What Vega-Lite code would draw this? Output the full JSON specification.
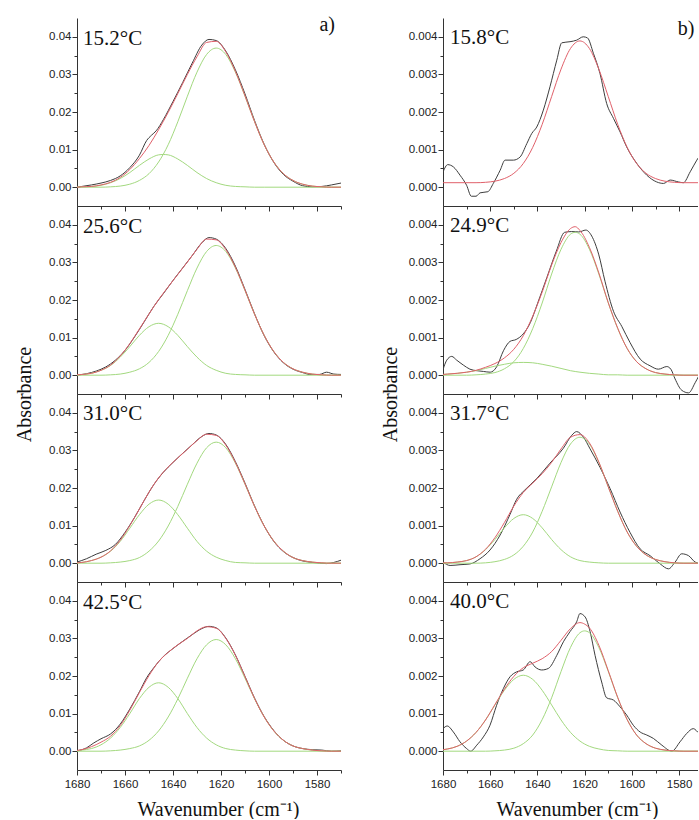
{
"$schema": "https://vega.github.io/schema/vega-lite/v6.json",
"padding": {"left": 14, "top": 14, "right": 0, "bottom": 0},
"background": "white",
"config": {
  "view": {"stroke": null},
  "axis": {"domainColor": "#333", "tickColor": "#333", "domainWidth": 1, "tickWidth": 1, "labelFont": "Liberation Sans", "labelFontSize": 11.5, "labelColor": "#222", "titleFont": "Liberation Serif", "titleFontSize": 20, "titleFontWeight": "normal", "titleColor": "#111", "grid": false, "labelPadding": 2, "labelFlush": false, "labelOverlap": false}
},
"datasets": {
"lab": [
{"p":"L1","wn":1677.5,"a":0.0395,"t":"15.2°C"},
{"p":"L2","wn":1677.5,"a":0.0395,"t":"25.6°C"},
{"p":"L3","wn":1677.5,"a":0.0397,"t":"31.0°C"},
{"p":"L4","wn":1677.5,"a":0.0395,"t":"42.5°C"},
{"p":"R1","wn":1677,"a":0.00398,"t":"15.8°C"},
{"p":"R2","wn":1677,"a":0.00398,"t":"24.9°C"},
{"p":"R3","wn":1677,"a":0.00398,"t":"31.7°C"},
{"p":"R4","wn":1677,"a":0.00398,"t":"40.0°C"}
],
"corner": [
{"p":"L1","wn":1572.5,"a":0.0432,"t":"a)"},
{"p":"R1","wn":1573.5,"a":0.00422,"t":"b)"}
],
"c": [
{"p":"L1","s":"data","wn":1570,"a":0.0011},{"p":"L1","s":"data","wn":1574,"a":0.0006},{"p":"L1","s":"data","wn":1578,"a":0.0002},{"p":"L1","s":"data","wn":1582,"a":0.0001},{"p":"L1","s":"data","wn":1586,"a":0.0004},{"p":"L1","s":"data","wn":1590,"a":0.0016},{"p":"L1","s":"data","wn":1594,"a":0.0034},{"p":"L1","s":"data","wn":1598,"a":0.0066},{"p":"L1","s":"data","wn":1602,"a":0.0114},{"p":"L1","s":"data","wn":1606,"a":0.0177},{"p":"L1","s":"data","wn":1610,"a":0.0248},{"p":"L1","s":"data","wn":1614,"a":0.0312},{"p":"L1","s":"data","wn":1618,"a":0.0362},{"p":"L1","s":"data","wn":1622,"a":0.039},{"p":"L1","s":"data","wn":1625,"a":0.0393},{"p":"L1","s":"data","wn":1628,"a":0.0378},{"p":"L1","s":"data","wn":1632,"a":0.033},{"p":"L1","s":"data","wn":1636,"a":0.0278},{"p":"L1","s":"data","wn":1640,"a":0.0228},{"p":"L1","s":"data","wn":1644,"a":0.018},{"p":"L1","s":"data","wn":1647,"a":0.015},{"p":"L1","s":"data","wn":1649,"a":0.0138},{"p":"L1","s":"data","wn":1651,"a":0.0124},{"p":"L1","s":"data","wn":1654,"a":0.0085},{"p":"L1","s":"data","wn":1658,"a":0.0052},{"p":"L1","s":"data","wn":1662,"a":0.003},{"p":"L1","s":"data","wn":1666,"a":0.0018},{"p":"L1","s":"data","wn":1670,"a":0.0011},{"p":"L1","s":"data","wn":1674,"a":0.0006},{"p":"L1","s":"data","wn":1678,"a":0.0002},{"p":"L1","s":"data","wn":1680,"a":0},
{"p":"L1","s":"peak1","wn":1570,"a":0},{"p":"L1","s":"peak1","wn":1574,"a":0},{"p":"L1","s":"peak1","wn":1578,"a":0.0001},{"p":"L1","s":"peak1","wn":1582,"a":0.0003},{"p":"L1","s":"peak1","wn":1586,"a":0.0008},{"p":"L1","s":"peak1","wn":1590,"a":0.0018},{"p":"L1","s":"peak1","wn":1594,"a":0.0036},{"p":"L1","s":"peak1","wn":1598,"a":0.0067},{"p":"L1","s":"peak1","wn":1602,"a":0.0113},{"p":"L1","s":"peak1","wn":1606,"a":0.0174},{"p":"L1","s":"peak1","wn":1610,"a":0.0242},{"p":"L1","s":"peak1","wn":1614,"a":0.0306},{"p":"L1","s":"peak1","wn":1618,"a":0.0353},{"p":"L1","s":"peak1","wn":1622,"a":0.037},{"p":"L1","s":"peak1","wn":1626,"a":0.0353},{"p":"L1","s":"peak1","wn":1630,"a":0.0306},{"p":"L1","s":"peak1","wn":1634,"a":0.0242},{"p":"L1","s":"peak1","wn":1638,"a":0.0174},{"p":"L1","s":"peak1","wn":1642,"a":0.0113},{"p":"L1","s":"peak1","wn":1646,"a":0.0067},{"p":"L1","s":"peak1","wn":1650,"a":0.0036},{"p":"L1","s":"peak1","wn":1654,"a":0.0018},{"p":"L1","s":"peak1","wn":1658,"a":0.0008},{"p":"L1","s":"peak1","wn":1662,"a":0.0003},{"p":"L1","s":"peak1","wn":1666,"a":0.0001},{"p":"L1","s":"peak1","wn":1670,"a":0},{"p":"L1","s":"peak1","wn":1680,"a":0},
{"p":"L1","s":"peak2","wn":1570,"a":0},{"p":"L1","s":"peak2","wn":1602,"a":0},{"p":"L1","s":"peak2","wn":1606,"a":0},{"p":"L1","s":"peak2","wn":1610,"a":0.0001},{"p":"L1","s":"peak2","wn":1614,"a":0.0002},{"p":"L1","s":"peak2","wn":1618,"a":0.0005},{"p":"L1","s":"peak2","wn":1622,"a":0.0012},{"p":"L1","s":"peak2","wn":1626,"a":0.0023},{"p":"L1","s":"peak2","wn":1630,"a":0.0039},{"p":"L1","s":"peak2","wn":1634,"a":0.0058},{"p":"L1","s":"peak2","wn":1638,"a":0.0075},{"p":"L1","s":"peak2","wn":1642,"a":0.0086},{"p":"L1","s":"peak2","wn":1644,"a":0.0087},{"p":"L1","s":"peak2","wn":1646,"a":0.0086},{"p":"L1","s":"peak2","wn":1650,"a":0.0075},{"p":"L1","s":"peak2","wn":1654,"a":0.0058},{"p":"L1","s":"peak2","wn":1658,"a":0.0039},{"p":"L1","s":"peak2","wn":1662,"a":0.0023},{"p":"L1","s":"peak2","wn":1666,"a":0.0012},{"p":"L1","s":"peak2","wn":1670,"a":0.0005},{"p":"L1","s":"peak2","wn":1674,"a":0.0002},{"p":"L1","s":"peak2","wn":1678,"a":0.0001},{"p":"L1","s":"peak2","wn":1680,"a":0},
{"p":"L1","s":"fit","wn":1570,"a":0},{"p":"L1","s":"fit","wn":1574,"a":0},{"p":"L1","s":"fit","wn":1578,"a":0.0001},{"p":"L1","s":"fit","wn":1582,"a":0.0003},{"p":"L1","s":"fit","wn":1586,"a":0.0008},{"p":"L1","s":"fit","wn":1590,"a":0.0018},{"p":"L1","s":"fit","wn":1594,"a":0.0036},{"p":"L1","s":"fit","wn":1598,"a":0.0067},{"p":"L1","s":"fit","wn":1602,"a":0.0113},{"p":"L1","s":"fit","wn":1606,"a":0.0174},{"p":"L1","s":"fit","wn":1610,"a":0.0243},{"p":"L1","s":"fit","wn":1614,"a":0.0308},{"p":"L1","s":"fit","wn":1618,"a":0.036},{"p":"L1","s":"fit","wn":1622,"a":0.0388},{"p":"L1","s":"fit","wn":1626,"a":0.0385},{"p":"L1","s":"fit","wn":1630,"a":0.0347},{"p":"L1","s":"fit","wn":1634,"a":0.03},{"p":"L1","s":"fit","wn":1638,"a":0.0249},{"p":"L1","s":"fit","wn":1642,"a":0.0199},{"p":"L1","s":"fit","wn":1646,"a":0.0153},{"p":"L1","s":"fit","wn":1650,"a":0.0111},{"p":"L1","s":"fit","wn":1654,"a":0.0076},{"p":"L1","s":"fit","wn":1658,"a":0.0047},{"p":"L1","s":"fit","wn":1662,"a":0.0026},{"p":"L1","s":"fit","wn":1666,"a":0.0013},{"p":"L1","s":"fit","wn":1670,"a":0.0006},{"p":"L1","s":"fit","wn":1674,"a":0.0002},{"p":"L1","s":"fit","wn":1678,"a":0.0001},{"p":"L1","s":"fit","wn":1680,"a":0},

{"p":"L2","s":"data","wn":1570,"a":0.0002},{"p":"L2","s":"data","wn":1573,"a":0.0003},{"p":"L2","s":"data","wn":1576,"a":0.0008},{"p":"L2","s":"data","wn":1579,"a":0.0002},{"p":"L2","s":"data","wn":1583,"a":0.0002},{"p":"L2","s":"data","wn":1586,"a":0.0007},{"p":"L2","s":"data","wn":1590,"a":0.0016},{"p":"L2","s":"data","wn":1594,"a":0.0033},{"p":"L2","s":"data","wn":1598,"a":0.0062},{"p":"L2","s":"data","wn":1602,"a":0.0105},{"p":"L2","s":"data","wn":1606,"a":0.0163},{"p":"L2","s":"data","wn":1610,"a":0.0228},{"p":"L2","s":"data","wn":1614,"a":0.029},{"p":"L2","s":"data","wn":1618,"a":0.0337},{"p":"L2","s":"data","wn":1622,"a":0.0362},{"p":"L2","s":"data","wn":1625,"a":0.0366},{"p":"L2","s":"data","wn":1628,"a":0.0352},{"p":"L2","s":"data","wn":1632,"a":0.0318},{"p":"L2","s":"data","wn":1636,"a":0.0285},{"p":"L2","s":"data","wn":1640,"a":0.0252},{"p":"L2","s":"data","wn":1644,"a":0.0217},{"p":"L2","s":"data","wn":1648,"a":0.0183},{"p":"L2","s":"data","wn":1652,"a":0.0142},{"p":"L2","s":"data","wn":1656,"a":0.0102},{"p":"L2","s":"data","wn":1660,"a":0.0066},{"p":"L2","s":"data","wn":1664,"a":0.004},{"p":"L2","s":"data","wn":1668,"a":0.0022},{"p":"L2","s":"data","wn":1672,"a":0.0011},{"p":"L2","s":"data","wn":1676,"a":0.0004},{"p":"L2","s":"data","wn":1680,"a":0},
{"p":"L2","s":"peak1","wn":1570,"a":0},{"p":"L2","s":"peak1","wn":1574,"a":0},{"p":"L2","s":"peak1","wn":1578,"a":0.0001},{"p":"L2","s":"peak1","wn":1582,"a":0.0003},{"p":"L2","s":"peak1","wn":1586,"a":0.0008},{"p":"L2","s":"peak1","wn":1590,"a":0.0017},{"p":"L2","s":"peak1","wn":1594,"a":0.0034},{"p":"L2","s":"peak1","wn":1598,"a":0.0063},{"p":"L2","s":"peak1","wn":1602,"a":0.0106},{"p":"L2","s":"peak1","wn":1606,"a":0.0162},{"p":"L2","s":"peak1","wn":1610,"a":0.0225},{"p":"L2","s":"peak1","wn":1614,"a":0.0285},{"p":"L2","s":"peak1","wn":1618,"a":0.0329},{"p":"L2","s":"peak1","wn":1622,"a":0.0345},{"p":"L2","s":"peak1","wn":1626,"a":0.0329},{"p":"L2","s":"peak1","wn":1630,"a":0.0285},{"p":"L2","s":"peak1","wn":1634,"a":0.0225},{"p":"L2","s":"peak1","wn":1638,"a":0.0162},{"p":"L2","s":"peak1","wn":1642,"a":0.0106},{"p":"L2","s":"peak1","wn":1646,"a":0.0063},{"p":"L2","s":"peak1","wn":1650,"a":0.0034},{"p":"L2","s":"peak1","wn":1654,"a":0.0017},{"p":"L2","s":"peak1","wn":1658,"a":0.0008},{"p":"L2","s":"peak1","wn":1662,"a":0.0003},{"p":"L2","s":"peak1","wn":1666,"a":0.0001},{"p":"L2","s":"peak1","wn":1670,"a":0},{"p":"L2","s":"peak1","wn":1680,"a":0},
{"p":"L2","s":"peak2","wn":1570,"a":0},{"p":"L2","s":"peak2","wn":1606,"a":0},{"p":"L2","s":"peak2","wn":1610,"a":0.0001},{"p":"L2","s":"peak2","wn":1614,"a":0.0002},{"p":"L2","s":"peak2","wn":1618,"a":0.0005},{"p":"L2","s":"peak2","wn":1622,"a":0.0013},{"p":"L2","s":"peak2","wn":1626,"a":0.0026},{"p":"L2","s":"peak2","wn":1630,"a":0.0048},{"p":"L2","s":"peak2","wn":1634,"a":0.0076},{"p":"L2","s":"peak2","wn":1638,"a":0.0106},{"p":"L2","s":"peak2","wn":1642,"a":0.0129},{"p":"L2","s":"peak2","wn":1646,"a":0.0138},{"p":"L2","s":"peak2","wn":1650,"a":0.0129},{"p":"L2","s":"peak2","wn":1654,"a":0.0106},{"p":"L2","s":"peak2","wn":1658,"a":0.0076},{"p":"L2","s":"peak2","wn":1662,"a":0.0048},{"p":"L2","s":"peak2","wn":1666,"a":0.0026},{"p":"L2","s":"peak2","wn":1670,"a":0.0013},{"p":"L2","s":"peak2","wn":1674,"a":0.0005},{"p":"L2","s":"peak2","wn":1678,"a":0.0002},{"p":"L2","s":"peak2","wn":1680,"a":0.0001},
{"p":"L2","s":"fit","wn":1570,"a":0},{"p":"L2","s":"fit","wn":1574,"a":0},{"p":"L2","s":"fit","wn":1578,"a":0.0001},{"p":"L2","s":"fit","wn":1582,"a":0.0003},{"p":"L2","s":"fit","wn":1586,"a":0.0008},{"p":"L2","s":"fit","wn":1590,"a":0.0017},{"p":"L2","s":"fit","wn":1594,"a":0.0034},{"p":"L2","s":"fit","wn":1598,"a":0.0063},{"p":"L2","s":"fit","wn":1602,"a":0.0106},{"p":"L2","s":"fit","wn":1606,"a":0.0162},{"p":"L2","s":"fit","wn":1610,"a":0.0226},{"p":"L2","s":"fit","wn":1614,"a":0.0287},{"p":"L2","s":"fit","wn":1618,"a":0.0334},{"p":"L2","s":"fit","wn":1622,"a":0.036},{"p":"L2","s":"fit","wn":1626,"a":0.0362},{"p":"L2","s":"fit","wn":1630,"a":0.0335},{"p":"L2","s":"fit","wn":1634,"a":0.0301},{"p":"L2","s":"fit","wn":1638,"a":0.0268},{"p":"L2","s":"fit","wn":1642,"a":0.0235},{"p":"L2","s":"fit","wn":1646,"a":0.0201},{"p":"L2","s":"fit","wn":1650,"a":0.0163},{"p":"L2","s":"fit","wn":1654,"a":0.0123},{"p":"L2","s":"fit","wn":1658,"a":0.0084},{"p":"L2","s":"fit","wn":1662,"a":0.0051},{"p":"L2","s":"fit","wn":1666,"a":0.0027},{"p":"L2","s":"fit","wn":1670,"a":0.0013},{"p":"L2","s":"fit","wn":1674,"a":0.0005},{"p":"L2","s":"fit","wn":1678,"a":0.0002},{"p":"L2","s":"fit","wn":1680,"a":0.0001},

{"p":"L3","s":"data","wn":1570,"a":0.0008},{"p":"L3","s":"data","wn":1573,"a":0.0002},{"p":"L3","s":"data","wn":1576,"a":-0.0001},{"p":"L3","s":"data","wn":1579,"a":0},{"p":"L3","s":"data","wn":1582,"a":0.0002},{"p":"L3","s":"data","wn":1586,"a":0.0006},{"p":"L3","s":"data","wn":1590,"a":0.0015},{"p":"L3","s":"data","wn":1594,"a":0.0031},{"p":"L3","s":"data","wn":1598,"a":0.0058},{"p":"L3","s":"data","wn":1602,"a":0.0099},{"p":"L3","s":"data","wn":1606,"a":0.0152},{"p":"L3","s":"data","wn":1610,"a":0.0213},{"p":"L3","s":"data","wn":1614,"a":0.027},{"p":"L3","s":"data","wn":1618,"a":0.0316},{"p":"L3","s":"data","wn":1622,"a":0.0341},{"p":"L3","s":"data","wn":1625,"a":0.0345},{"p":"L3","s":"data","wn":1628,"a":0.0337},{"p":"L3","s":"data","wn":1632,"a":0.0315},{"p":"L3","s":"data","wn":1636,"a":0.0292},{"p":"L3","s":"data","wn":1640,"a":0.0268},{"p":"L3","s":"data","wn":1644,"a":0.0242},{"p":"L3","s":"data","wn":1648,"a":0.0209},{"p":"L3","s":"data","wn":1652,"a":0.0167},{"p":"L3","s":"data","wn":1656,"a":0.0122},{"p":"L3","s":"data","wn":1660,"a":0.0082},{"p":"L3","s":"data","wn":1664,"a":0.005},{"p":"L3","s":"data","wn":1668,"a":0.0034},{"p":"L3","s":"data","wn":1672,"a":0.0024},{"p":"L3","s":"data","wn":1676,"a":0.0012},{"p":"L3","s":"data","wn":1680,"a":0.0003},
{"p":"L3","s":"peak1","wn":1570,"a":0},{"p":"L3","s":"peak1","wn":1574,"a":0},{"p":"L3","s":"peak1","wn":1578,"a":0.0001},{"p":"L3","s":"peak1","wn":1582,"a":0.0003},{"p":"L3","s":"peak1","wn":1586,"a":0.0007},{"p":"L3","s":"peak1","wn":1590,"a":0.0015},{"p":"L3","s":"peak1","wn":1594,"a":0.0032},{"p":"L3","s":"peak1","wn":1598,"a":0.0059},{"p":"L3","s":"peak1","wn":1602,"a":0.0099},{"p":"L3","s":"peak1","wn":1606,"a":0.0151},{"p":"L3","s":"peak1","wn":1610,"a":0.021},{"p":"L3","s":"peak1","wn":1614,"a":0.0266},{"p":"L3","s":"peak1","wn":1618,"a":0.0307},{"p":"L3","s":"peak1","wn":1622,"a":0.0322},{"p":"L3","s":"peak1","wn":1626,"a":0.0307},{"p":"L3","s":"peak1","wn":1630,"a":0.0266},{"p":"L3","s":"peak1","wn":1634,"a":0.021},{"p":"L3","s":"peak1","wn":1638,"a":0.0151},{"p":"L3","s":"peak1","wn":1642,"a":0.0099},{"p":"L3","s":"peak1","wn":1646,"a":0.0059},{"p":"L3","s":"peak1","wn":1650,"a":0.0032},{"p":"L3","s":"peak1","wn":1654,"a":0.0015},{"p":"L3","s":"peak1","wn":1658,"a":0.0007},{"p":"L3","s":"peak1","wn":1662,"a":0.0003},{"p":"L3","s":"peak1","wn":1666,"a":0.0001},{"p":"L3","s":"peak1","wn":1670,"a":0},{"p":"L3","s":"peak1","wn":1680,"a":0},
{"p":"L3","s":"peak2","wn":1570,"a":0},{"p":"L3","s":"peak2","wn":1606,"a":0},{"p":"L3","s":"peak2","wn":1610,"a":0.0001},{"p":"L3","s":"peak2","wn":1614,"a":0.0002},{"p":"L3","s":"peak2","wn":1618,"a":0.0007},{"p":"L3","s":"peak2","wn":1622,"a":0.0016},{"p":"L3","s":"peak2","wn":1626,"a":0.0032},{"p":"L3","s":"peak2","wn":1630,"a":0.0058},{"p":"L3","s":"peak2","wn":1634,"a":0.0093},{"p":"L3","s":"peak2","wn":1638,"a":0.0129},{"p":"L3","s":"peak2","wn":1642,"a":0.0157},{"p":"L3","s":"peak2","wn":1646,"a":0.0168},{"p":"L3","s":"peak2","wn":1650,"a":0.0157},{"p":"L3","s":"peak2","wn":1654,"a":0.0129},{"p":"L3","s":"peak2","wn":1658,"a":0.0093},{"p":"L3","s":"peak2","wn":1662,"a":0.0058},{"p":"L3","s":"peak2","wn":1666,"a":0.0032},{"p":"L3","s":"peak2","wn":1670,"a":0.0016},{"p":"L3","s":"peak2","wn":1674,"a":0.0007},{"p":"L3","s":"peak2","wn":1678,"a":0.0002},{"p":"L3","s":"peak2","wn":1680,"a":0.0001},
{"p":"L3","s":"fit","wn":1570,"a":0},{"p":"L3","s":"fit","wn":1574,"a":0},{"p":"L3","s":"fit","wn":1578,"a":0.0001},{"p":"L3","s":"fit","wn":1582,"a":0.0003},{"p":"L3","s":"fit","wn":1586,"a":0.0007},{"p":"L3","s":"fit","wn":1590,"a":0.0015},{"p":"L3","s":"fit","wn":1594,"a":0.0032},{"p":"L3","s":"fit","wn":1598,"a":0.0059},{"p":"L3","s":"fit","wn":1602,"a":0.0099},{"p":"L3","s":"fit","wn":1606,"a":0.0151},{"p":"L3","s":"fit","wn":1610,"a":0.0211},{"p":"L3","s":"fit","wn":1614,"a":0.0268},{"p":"L3","s":"fit","wn":1618,"a":0.0314},{"p":"L3","s":"fit","wn":1622,"a":0.034},{"p":"L3","s":"fit","wn":1626,"a":0.0343},{"p":"L3","s":"fit","wn":1630,"a":0.0326},{"p":"L3","s":"fit","wn":1634,"a":0.0303},{"p":"L3","s":"fit","wn":1638,"a":0.028},{"p":"L3","s":"fit","wn":1642,"a":0.0256},{"p":"L3","s":"fit","wn":1646,"a":0.0227},{"p":"L3","s":"fit","wn":1650,"a":0.0189},{"p":"L3","s":"fit","wn":1654,"a":0.0144},{"p":"L3","s":"fit","wn":1658,"a":0.01},{"p":"L3","s":"fit","wn":1662,"a":0.0061},{"p":"L3","s":"fit","wn":1666,"a":0.0033},{"p":"L3","s":"fit","wn":1670,"a":0.0016},{"p":"L3","s":"fit","wn":1674,"a":0.0007},{"p":"L3","s":"fit","wn":1678,"a":0.0002},{"p":"L3","s":"fit","wn":1680,"a":0.0001},

{"p":"L4","s":"data","wn":1570,"a":0.0001},{"p":"L4","s":"data","wn":1574,"a":0},{"p":"L4","s":"data","wn":1578,"a":0.0003},{"p":"L4","s":"data","wn":1582,"a":0.0004},{"p":"L4","s":"data","wn":1586,"a":0.0007},{"p":"L4","s":"data","wn":1590,"a":0.0014},{"p":"L4","s":"data","wn":1594,"a":0.0029},{"p":"L4","s":"data","wn":1598,"a":0.0055},{"p":"L4","s":"data","wn":1602,"a":0.0092},{"p":"L4","s":"data","wn":1606,"a":0.0141},{"p":"L4","s":"data","wn":1610,"a":0.0199},{"p":"L4","s":"data","wn":1614,"a":0.0256},{"p":"L4","s":"data","wn":1618,"a":0.0301},{"p":"L4","s":"data","wn":1622,"a":0.0328},{"p":"L4","s":"data","wn":1625,"a":0.0332},{"p":"L4","s":"data","wn":1628,"a":0.0326},{"p":"L4","s":"data","wn":1632,"a":0.031},{"p":"L4","s":"data","wn":1636,"a":0.0292},{"p":"L4","s":"data","wn":1640,"a":0.0273},{"p":"L4","s":"data","wn":1644,"a":0.0252},{"p":"L4","s":"data","wn":1648,"a":0.0222},{"p":"L4","s":"data","wn":1651,"a":0.0195},{"p":"L4","s":"data","wn":1654,"a":0.0158},{"p":"L4","s":"data","wn":1658,"a":0.0112},{"p":"L4","s":"data","wn":1662,"a":0.0072},{"p":"L4","s":"data","wn":1666,"a":0.0046},{"p":"L4","s":"data","wn":1670,"a":0.0033},{"p":"L4","s":"data","wn":1673,"a":0.0022},{"p":"L4","s":"data","wn":1676,"a":0.0009},{"p":"L4","s":"data","wn":1680,"a":0.0001},
{"p":"L4","s":"peak1","wn":1570,"a":0},{"p":"L4","s":"peak1","wn":1574,"a":0},{"p":"L4","s":"peak1","wn":1578,"a":0.0001},{"p":"L4","s":"peak1","wn":1582,"a":0.0003},{"p":"L4","s":"peak1","wn":1586,"a":0.0007},{"p":"L4","s":"peak1","wn":1590,"a":0.0014},{"p":"L4","s":"peak1","wn":1594,"a":0.0029},{"p":"L4","s":"peak1","wn":1598,"a":0.0054},{"p":"L4","s":"peak1","wn":1602,"a":0.0091},{"p":"L4","s":"peak1","wn":1606,"a":0.0139},{"p":"L4","s":"peak1","wn":1610,"a":0.0194},{"p":"L4","s":"peak1","wn":1614,"a":0.0246},{"p":"L4","s":"peak1","wn":1618,"a":0.0283},{"p":"L4","s":"peak1","wn":1622,"a":0.0297},{"p":"L4","s":"peak1","wn":1626,"a":0.0283},{"p":"L4","s":"peak1","wn":1630,"a":0.0246},{"p":"L4","s":"peak1","wn":1634,"a":0.0194},{"p":"L4","s":"peak1","wn":1638,"a":0.0139},{"p":"L4","s":"peak1","wn":1642,"a":0.0091},{"p":"L4","s":"peak1","wn":1646,"a":0.0054},{"p":"L4","s":"peak1","wn":1650,"a":0.0029},{"p":"L4","s":"peak1","wn":1654,"a":0.0014},{"p":"L4","s":"peak1","wn":1658,"a":0.0007},{"p":"L4","s":"peak1","wn":1662,"a":0.0003},{"p":"L4","s":"peak1","wn":1666,"a":0.0001},{"p":"L4","s":"peak1","wn":1670,"a":0},{"p":"L4","s":"peak1","wn":1680,"a":0},
{"p":"L4","s":"peak2","wn":1570,"a":0},{"p":"L4","s":"peak2","wn":1606,"a":0},{"p":"L4","s":"peak2","wn":1610,"a":0.0001},{"p":"L4","s":"peak2","wn":1614,"a":0.0003},{"p":"L4","s":"peak2","wn":1618,"a":0.0007},{"p":"L4","s":"peak2","wn":1622,"a":0.0017},{"p":"L4","s":"peak2","wn":1626,"a":0.0035},{"p":"L4","s":"peak2","wn":1630,"a":0.0063},{"p":"L4","s":"peak2","wn":1634,"a":0.01},{"p":"L4","s":"peak2","wn":1638,"a":0.014},{"p":"L4","s":"peak2","wn":1642,"a":0.017},{"p":"L4","s":"peak2","wn":1646,"a":0.0182},{"p":"L4","s":"peak2","wn":1650,"a":0.017},{"p":"L4","s":"peak2","wn":1654,"a":0.014},{"p":"L4","s":"peak2","wn":1658,"a":0.01},{"p":"L4","s":"peak2","wn":1662,"a":0.0063},{"p":"L4","s":"peak2","wn":1666,"a":0.0035},{"p":"L4","s":"peak2","wn":1670,"a":0.0017},{"p":"L4","s":"peak2","wn":1674,"a":0.0007},{"p":"L4","s":"peak2","wn":1678,"a":0.0003},{"p":"L4","s":"peak2","wn":1680,"a":0.0001},
{"p":"L4","s":"fit","wn":1570,"a":0},{"p":"L4","s":"fit","wn":1574,"a":0},{"p":"L4","s":"fit","wn":1578,"a":0.0001},{"p":"L4","s":"fit","wn":1582,"a":0.0003},{"p":"L4","s":"fit","wn":1586,"a":0.0007},{"p":"L4","s":"fit","wn":1590,"a":0.0014},{"p":"L4","s":"fit","wn":1594,"a":0.0029},{"p":"L4","s":"fit","wn":1598,"a":0.0054},{"p":"L4","s":"fit","wn":1602,"a":0.0091},{"p":"L4","s":"fit","wn":1606,"a":0.014},{"p":"L4","s":"fit","wn":1610,"a":0.0198},{"p":"L4","s":"fit","wn":1614,"a":0.0255},{"p":"L4","s":"fit","wn":1618,"a":0.03},{"p":"L4","s":"fit","wn":1622,"a":0.0327},{"p":"L4","s":"fit","wn":1626,"a":0.0331},{"p":"L4","s":"fit","wn":1630,"a":0.032},{"p":"L4","s":"fit","wn":1634,"a":0.03},{"p":"L4","s":"fit","wn":1638,"a":0.0283},{"p":"L4","s":"fit","wn":1642,"a":0.0263},{"p":"L4","s":"fit","wn":1646,"a":0.0238},{"p":"L4","s":"fit","wn":1650,"a":0.0201},{"p":"L4","s":"fit","wn":1654,"a":0.0156},{"p":"L4","s":"fit","wn":1658,"a":0.0109},{"p":"L4","s":"fit","wn":1662,"a":0.0068},{"p":"L4","s":"fit","wn":1666,"a":0.004},{"p":"L4","s":"fit","wn":1670,"a":0.0024},{"p":"L4","s":"fit","wn":1674,"a":0.0012},{"p":"L4","s":"fit","wn":1678,"a":0.0004},{"p":"L4","s":"fit","wn":1680,"a":0.0002},

{"p":"R1","s":"data","wn":1570,"a":0.00095},{"p":"R1","s":"data","wn":1572.5,"a":0.00072},{"p":"R1","s":"data","wn":1575.3,"a":0.00041},{"p":"R1","s":"data","wn":1578.2,"a":0.00012},{"p":"R1","s":"data","wn":1580.3,"a":0.00014},{"p":"R1","s":"data","wn":1583.8,"a":0.00019},{"p":"R1","s":"data","wn":1586.6,"a":0.0001},{"p":"R1","s":"data","wn":1589.5,"a":0.00014},{"p":"R1","s":"data","wn":1593.7,"a":0.00032},{"p":"R1","s":"data","wn":1597.9,"a":0.00063},{"p":"R1","s":"data","wn":1602.2,"a":0.00107},{"p":"R1","s":"data","wn":1605,"a":0.00147},{"p":"R1","s":"data","wn":1607.8,"a":0.00183},{"p":"R1","s":"data","wn":1610.7,"a":0.00223},{"p":"R1","s":"data","wn":1613.5,"a":0.00302},{"p":"R1","s":"data","wn":1616.3,"a":0.00356},{"p":"R1","s":"data","wn":1618.8,"a":0.00397},{"p":"R1","s":"data","wn":1620.6,"a":0.004},{"p":"R1","s":"data","wn":1623.4,"a":0.00391},{"p":"R1","s":"data","wn":1626.2,"a":0.00387},{"p":"R1","s":"data","wn":1629.7,"a":0.00384},{"p":"R1","s":"data","wn":1631.8,"a":0.00338},{"p":"R1","s":"data","wn":1634.7,"a":0.00267},{"p":"R1","s":"data","wn":1637.5,"a":0.00205},{"p":"R1","s":"data","wn":1640.3,"a":0.0016},{"p":"R1","s":"data","wn":1642.4,"a":0.00143},{"p":"R1","s":"data","wn":1644.5,"a":0.00116},{"p":"R1","s":"data","wn":1647.4,"a":0.0008},{"p":"R1","s":"data","wn":1650.2,"a":0.00072},{"p":"R1","s":"data","wn":1653.7,"a":0.00072},{"p":"R1","s":"data","wn":1655.8,"a":0.00045},{"p":"R1","s":"data","wn":1658.7,"a":0.0001},{"p":"R1","s":"data","wn":1661,"a":-0.00012},{"p":"R1","s":"data","wn":1664.3,"a":-0.00015},{"p":"R1","s":"data","wn":1666,"a":-0.00024},{"p":"R1","s":"data","wn":1668,"a":-0.00024},{"p":"R1","s":"data","wn":1670,"a":0.00005},{"p":"R1","s":"data","wn":1672.8,"a":0.00032},{"p":"R1","s":"data","wn":1675.6,"a":0.00054},{"p":"R1","s":"data","wn":1678,"a":0.0006},{"p":"R1","s":"data","wn":1680,"a":0.0004},
{"p":"R1","s":"fit","wn":1570,"a":0.00012},{"p":"R1","s":"fit","wn":1578,"a":0.00012},{"p":"R1","s":"fit","wn":1582,"a":0.00013},{"p":"R1","s":"fit","wn":1586,"a":0.00016},{"p":"R1","s":"fit","wn":1590,"a":0.00023},{"p":"R1","s":"fit","wn":1594,"a":0.00037},{"p":"R1","s":"fit","wn":1598,"a":0.00063},{"p":"R1","s":"fit","wn":1602,"a":0.00106},{"p":"R1","s":"fit","wn":1606,"a":0.00167},{"p":"R1","s":"fit","wn":1610,"a":0.00241},{"p":"R1","s":"fit","wn":1614,"a":0.00314},{"p":"R1","s":"fit","wn":1618,"a":0.00369},{"p":"R1","s":"fit","wn":1622,"a":0.00389},{"p":"R1","s":"fit","wn":1626,"a":0.00369},{"p":"R1","s":"fit","wn":1630,"a":0.00314},{"p":"R1","s":"fit","wn":1634,"a":0.00241},{"p":"R1","s":"fit","wn":1638,"a":0.00167},{"p":"R1","s":"fit","wn":1642,"a":0.00106},{"p":"R1","s":"fit","wn":1646,"a":0.00063},{"p":"R1","s":"fit","wn":1650,"a":0.00037},{"p":"R1","s":"fit","wn":1654,"a":0.00023},{"p":"R1","s":"fit","wn":1658,"a":0.00016},{"p":"R1","s":"fit","wn":1662,"a":0.00013},{"p":"R1","s":"fit","wn":1666,"a":0.00012},{"p":"R1","s":"fit","wn":1680,"a":0.00012},

{"p":"R2","s":"data","wn":1570,"a":0.0002},{"p":"R2","s":"data","wn":1573.2,"a":-0.0002},{"p":"R2","s":"data","wn":1576,"a":-0.00047},{"p":"R2","s":"data","wn":1578.9,"a":-0.0004},{"p":"R2","s":"data","wn":1581.7,"a":-0.0001},{"p":"R2","s":"data","wn":1583.5,"a":0.00016},{"p":"R2","s":"data","wn":1585.2,"a":0.00023},{"p":"R2","s":"data","wn":1588.8,"a":0.00016},{"p":"R2","s":"data","wn":1592.3,"a":0.00025},{"p":"R2","s":"data","wn":1596.5,"a":0.00043},{"p":"R2","s":"data","wn":1600.8,"a":0.00087},{"p":"R2","s":"data","wn":1604.3,"a":0.0013},{"p":"R2","s":"data","wn":1607.8,"a":0.0017},{"p":"R2","s":"data","wn":1611.4,"a":0.0025},{"p":"R2","s":"data","wn":1614,"a":0.0032},{"p":"R2","s":"data","wn":1617,"a":0.0037},{"p":"R2","s":"data","wn":1619.5,"a":0.00386},{"p":"R2","s":"data","wn":1622.5,"a":0.00381},{"p":"R2","s":"data","wn":1625.5,"a":0.00382},{"p":"R2","s":"data","wn":1628.5,"a":0.0038},{"p":"R2","s":"data","wn":1632,"a":0.0033},{"p":"R2","s":"data","wn":1636,"a":0.0026},{"p":"R2","s":"data","wn":1640,"a":0.0019},{"p":"R2","s":"data","wn":1643,"a":0.0014},{"p":"R2","s":"data","wn":1646,"a":0.0011},{"p":"R2","s":"data","wn":1649,"a":0.00095},{"p":"R2","s":"data","wn":1651.6,"a":0.0009},{"p":"R2","s":"data","wn":1654.4,"a":0.00065},{"p":"R2","s":"data","wn":1657.3,"a":0.00022},{"p":"R2","s":"data","wn":1660,"a":0.00008},{"p":"R2","s":"data","wn":1662.9,"a":0.0001},{"p":"R2","s":"data","wn":1665.7,"a":0.00012},{"p":"R2","s":"data","wn":1668.6,"a":0.00016},{"p":"R2","s":"data","wn":1671.4,"a":0.00027},{"p":"R2","s":"data","wn":1674.2,"a":0.0004},{"p":"R2","s":"data","wn":1676.3,"a":0.0005},{"p":"R2","s":"data","wn":1678.4,"a":0.0004},{"p":"R2","s":"data","wn":1680,"a":0.00015},
{"p":"R2","s":"peak1","wn":1570,"a":0},{"p":"R2","s":"peak1","wn":1578,"a":0},{"p":"R2","s":"peak1","wn":1582,"a":0.00001},{"p":"R2","s":"peak1","wn":1586,"a":0.00003},{"p":"R2","s":"peak1","wn":1590,"a":0.00007},{"p":"R2","s":"peak1","wn":1594,"a":0.00017},{"p":"R2","s":"peak1","wn":1598,"a":0.00036},{"p":"R2","s":"peak1","wn":1602,"a":0.00071},{"p":"R2","s":"peak1","wn":1606,"a":0.00124},{"p":"R2","s":"peak1","wn":1610,"a":0.00192},{"p":"R2","s":"peak1","wn":1614,"a":0.00269},{"p":"R2","s":"peak1","wn":1618,"a":0.00335},{"p":"R2","s":"peak1","wn":1622,"a":0.00375},{"p":"R2","s":"peak1","wn":1624,"a":0.0038},{"p":"R2","s":"peak1","wn":1626,"a":0.00375},{"p":"R2","s":"peak1","wn":1630,"a":0.00335},{"p":"R2","s":"peak1","wn":1634,"a":0.00269},{"p":"R2","s":"peak1","wn":1638,"a":0.00192},{"p":"R2","s":"peak1","wn":1642,"a":0.00124},{"p":"R2","s":"peak1","wn":1646,"a":0.00071},{"p":"R2","s":"peak1","wn":1650,"a":0.00036},{"p":"R2","s":"peak1","wn":1654,"a":0.00017},{"p":"R2","s":"peak1","wn":1658,"a":0.00007},{"p":"R2","s":"peak1","wn":1662,"a":0.00003},{"p":"R2","s":"peak1","wn":1666,"a":0.00001},{"p":"R2","s":"peak1","wn":1670,"a":0},{"p":"R2","s":"peak1","wn":1680,"a":0},
{"p":"R2","s":"peak2","wn":1570,"a":0},{"p":"R2","s":"peak2","wn":1602,"a":0},{"p":"R2","s":"peak2","wn":1606,"a":0.00001},{"p":"R2","s":"peak2","wn":1610,"a":0.00001},{"p":"R2","s":"peak2","wn":1614,"a":0.00003},{"p":"R2","s":"peak2","wn":1618,"a":0.00005},{"p":"R2","s":"peak2","wn":1622,"a":0.00008},{"p":"R2","s":"peak2","wn":1626,"a":0.00012},{"p":"R2","s":"peak2","wn":1630,"a":0.00018},{"p":"R2","s":"peak2","wn":1634,"a":0.00024},{"p":"R2","s":"peak2","wn":1638,"a":0.00029},{"p":"R2","s":"peak2","wn":1642,"a":0.00033},{"p":"R2","s":"peak2","wn":1646,"a":0.00034},{"p":"R2","s":"peak2","wn":1650,"a":0.00033},{"p":"R2","s":"peak2","wn":1654,"a":0.00029},{"p":"R2","s":"peak2","wn":1658,"a":0.00024},{"p":"R2","s":"peak2","wn":1662,"a":0.00018},{"p":"R2","s":"peak2","wn":1666,"a":0.00012},{"p":"R2","s":"peak2","wn":1670,"a":0.00008},{"p":"R2","s":"peak2","wn":1674,"a":0.00005},{"p":"R2","s":"peak2","wn":1678,"a":0.00003},{"p":"R2","s":"peak2","wn":1680,"a":0.00002},
{"p":"R2","s":"fit","wn":1570,"a":0},{"p":"R2","s":"fit","wn":1578,"a":0},{"p":"R2","s":"fit","wn":1582,"a":0.00001},{"p":"R2","s":"fit","wn":1586,"a":0.00003},{"p":"R2","s":"fit","wn":1590,"a":0.00007},{"p":"R2","s":"fit","wn":1594,"a":0.00017},{"p":"R2","s":"fit","wn":1598,"a":0.00036},{"p":"R2","s":"fit","wn":1602,"a":0.00071},{"p":"R2","s":"fit","wn":1606,"a":0.00125},{"p":"R2","s":"fit","wn":1610,"a":0.00193},{"p":"R2","s":"fit","wn":1614,"a":0.00272},{"p":"R2","s":"fit","wn":1618,"a":0.0034},{"p":"R2","s":"fit","wn":1622,"a":0.00385},{"p":"R2","s":"fit","wn":1624,"a":0.00395},{"p":"R2","s":"fit","wn":1626,"a":0.0039},{"p":"R2","s":"fit","wn":1630,"a":0.00353},{"p":"R2","s":"fit","wn":1634,"a":0.00293},{"p":"R2","s":"fit","wn":1638,"a":0.00221},{"p":"R2","s":"fit","wn":1642,"a":0.00157},{"p":"R2","s":"fit","wn":1646,"a":0.00105},{"p":"R2","s":"fit","wn":1650,"a":0.00069},{"p":"R2","s":"fit","wn":1654,"a":0.00046},{"p":"R2","s":"fit","wn":1658,"a":0.00031},{"p":"R2","s":"fit","wn":1662,"a":0.00021},{"p":"R2","s":"fit","wn":1666,"a":0.00013},{"p":"R2","s":"fit","wn":1670,"a":0.00008},{"p":"R2","s":"fit","wn":1674,"a":0.00005},{"p":"R2","s":"fit","wn":1678,"a":0.00003},{"p":"R2","s":"fit","wn":1680,"a":0.00002},

{"p":"R3","s":"data","wn":1570,"a":-0.00002},{"p":"R3","s":"data","wn":1573.2,"a":0.00003},{"p":"R3","s":"data","wn":1576,"a":0.0002},{"p":"R3","s":"data","wn":1578.9,"a":0.00025},{"p":"R3","s":"data","wn":1581.7,"a":0.00003},{"p":"R3","s":"data","wn":1584.5,"a":-0.00015},{"p":"R3","s":"data","wn":1588,"a":-0.00002},{"p":"R3","s":"data","wn":1592.3,"a":0.0002},{"p":"R3","s":"data","wn":1596.5,"a":0.00038},{"p":"R3","s":"data","wn":1600.8,"a":0.00082},{"p":"R3","s":"data","wn":1605,"a":0.00136},{"p":"R3","s":"data","wn":1609.2,"a":0.00198},{"p":"R3","s":"data","wn":1613.5,"a":0.00255},{"p":"R3","s":"data","wn":1617.7,"a":0.00304},{"p":"R3","s":"data","wn":1620.5,"a":0.00335},{"p":"R3","s":"data","wn":1623.4,"a":0.0035},{"p":"R3","s":"data","wn":1625.5,"a":0.0034},{"p":"R3","s":"data","wn":1629,"a":0.00306},{"p":"R3","s":"data","wn":1634.7,"a":0.00266},{"p":"R3","s":"data","wn":1640.3,"a":0.00225},{"p":"R3","s":"data","wn":1645.3,"a":0.00195},{"p":"R3","s":"data","wn":1648.8,"a":0.0017},{"p":"R3","s":"data","wn":1651.6,"a":0.0013},{"p":"R3","s":"data","wn":1655.8,"a":0.00075},{"p":"R3","s":"data","wn":1660.1,"a":0.00035},{"p":"R3","s":"data","wn":1664.3,"a":0.00012},{"p":"R3","s":"data","wn":1668.6,"a":-0.00002},{"p":"R3","s":"data","wn":1672.8,"a":-0.00004},{"p":"R3","s":"data","wn":1677,"a":-0.00006},{"p":"R3","s":"data","wn":1680,"a":0.00003},
{"p":"R3","s":"peak1","wn":1570,"a":0},{"p":"R3","s":"peak1","wn":1578,"a":0},{"p":"R3","s":"peak1","wn":1582,"a":0.00001},{"p":"R3","s":"peak1","wn":1586,"a":0.00004},{"p":"R3","s":"peak1","wn":1590,"a":0.0001},{"p":"R3","s":"peak1","wn":1594,"a":0.00022},{"p":"R3","s":"peak1","wn":1598,"a":0.00045},{"p":"R3","s":"peak1","wn":1602,"a":0.00083},{"p":"R3","s":"peak1","wn":1606,"a":0.00138},{"p":"R3","s":"peak1","wn":1610,"a":0.00203},{"p":"R3","s":"peak1","wn":1614,"a":0.00268},{"p":"R3","s":"peak1","wn":1618,"a":0.00317},{"p":"R3","s":"peak1","wn":1622,"a":0.00335},{"p":"R3","s":"peak1","wn":1626,"a":0.00317},{"p":"R3","s":"peak1","wn":1630,"a":0.00268},{"p":"R3","s":"peak1","wn":1634,"a":0.00203},{"p":"R3","s":"peak1","wn":1638,"a":0.00138},{"p":"R3","s":"peak1","wn":1642,"a":0.00083},{"p":"R3","s":"peak1","wn":1646,"a":0.00045},{"p":"R3","s":"peak1","wn":1650,"a":0.00022},{"p":"R3","s":"peak1","wn":1654,"a":0.0001},{"p":"R3","s":"peak1","wn":1658,"a":0.00004},{"p":"R3","s":"peak1","wn":1662,"a":0.00001},{"p":"R3","s":"peak1","wn":1666,"a":0},{"p":"R3","s":"peak1","wn":1680,"a":0},
{"p":"R3","s":"peak2","wn":1570,"a":0},{"p":"R3","s":"peak2","wn":1610,"a":0},{"p":"R3","s":"peak2","wn":1614,"a":0.00001},{"p":"R3","s":"peak2","wn":1618,"a":0.00003},{"p":"R3","s":"peak2","wn":1622,"a":0.00007},{"p":"R3","s":"peak2","wn":1626,"a":0.00017},{"p":"R3","s":"peak2","wn":1630,"a":0.00036},{"p":"R3","s":"peak2","wn":1634,"a":0.00063},{"p":"R3","s":"peak2","wn":1638,"a":0.00094},{"p":"R3","s":"peak2","wn":1642,"a":0.00119},{"p":"R3","s":"peak2","wn":1646,"a":0.00129},{"p":"R3","s":"peak2","wn":1650,"a":0.00119},{"p":"R3","s":"peak2","wn":1654,"a":0.00094},{"p":"R3","s":"peak2","wn":1658,"a":0.00063},{"p":"R3","s":"peak2","wn":1662,"a":0.00036},{"p":"R3","s":"peak2","wn":1666,"a":0.00017},{"p":"R3","s":"peak2","wn":1670,"a":0.00007},{"p":"R3","s":"peak2","wn":1674,"a":0.00003},{"p":"R3","s":"peak2","wn":1678,"a":0.00001},{"p":"R3","s":"peak2","wn":1680,"a":0},
{"p":"R3","s":"fit","wn":1570,"a":0},{"p":"R3","s":"fit","wn":1578,"a":0},{"p":"R3","s":"fit","wn":1582,"a":0.00001},{"p":"R3","s":"fit","wn":1586,"a":0.00004},{"p":"R3","s":"fit","wn":1590,"a":0.0001},{"p":"R3","s":"fit","wn":1594,"a":0.00022},{"p":"R3","s":"fit","wn":1598,"a":0.00045},{"p":"R3","s":"fit","wn":1602,"a":0.00083},{"p":"R3","s":"fit","wn":1606,"a":0.00138},{"p":"R3","s":"fit","wn":1610,"a":0.00203},{"p":"R3","s":"fit","wn":1614,"a":0.00269},{"p":"R3","s":"fit","wn":1618,"a":0.0032},{"p":"R3","s":"fit","wn":1622,"a":0.00342},{"p":"R3","s":"fit","wn":1626,"a":0.00335},{"p":"R3","s":"fit","wn":1630,"a":0.00304},{"p":"R3","s":"fit","wn":1634,"a":0.00268},{"p":"R3","s":"fit","wn":1638,"a":0.00238},{"p":"R3","s":"fit","wn":1642,"a":0.00213},{"p":"R3","s":"fit","wn":1646,"a":0.00188},{"p":"R3","s":"fit","wn":1650,"a":0.00152},{"p":"R3","s":"fit","wn":1654,"a":0.00108},{"p":"R3","s":"fit","wn":1658,"a":0.00068},{"p":"R3","s":"fit","wn":1662,"a":0.00037},{"p":"R3","s":"fit","wn":1666,"a":0.00017},{"p":"R3","s":"fit","wn":1670,"a":0.00007},{"p":"R3","s":"fit","wn":1674,"a":0.00003},{"p":"R3","s":"fit","wn":1678,"a":0.00001},{"p":"R3","s":"fit","wn":1680,"a":0.00001},

{"p":"R4","s":"data","wn":1570,"a":0.0004},{"p":"R4","s":"data","wn":1571.5,"a":0.00047},{"p":"R4","s":"data","wn":1574,"a":0.0006},{"p":"R4","s":"data","wn":1576.8,"a":0.00047},{"p":"R4","s":"data","wn":1579.6,"a":0.00025},{"p":"R4","s":"data","wn":1583.1,"a":0},{"p":"R4","s":"data","wn":1587.3,"a":0.00016},{"p":"R4","s":"data","wn":1590.9,"a":0.00034},{"p":"R4","s":"data","wn":1593.7,"a":0.00043},{"p":"R4","s":"data","wn":1596.5,"a":0.00051},{"p":"R4","s":"data","wn":1599.4,"a":0.00069},{"p":"R4","s":"data","wn":1602.2,"a":0.00096},{"p":"R4","s":"data","wn":1605,"a":0.00118},{"p":"R4","s":"data","wn":1607.8,"a":0.00136},{"p":"R4","s":"data","wn":1610.7,"a":0.00142},{"p":"R4","s":"data","wn":1612.8,"a":0.00184},{"p":"R4","s":"data","wn":1615.6,"a":0.00255},{"p":"R4","s":"data","wn":1617.7,"a":0.00318},{"p":"R4","s":"data","wn":1619.8,"a":0.00357},{"p":"R4","s":"data","wn":1622,"a":0.00366},{"p":"R4","s":"data","wn":1623.4,"a":0.00344},{"p":"R4","s":"data","wn":1626.2,"a":0.00318},{"p":"R4","s":"data","wn":1629,"a":0.00291},{"p":"R4","s":"data","wn":1631.8,"a":0.00255},{"p":"R4","s":"data","wn":1635.4,"a":0.0022},{"p":"R4","s":"data","wn":1638.2,"a":0.00216},{"p":"R4","s":"data","wn":1641,"a":0.00224},{"p":"R4","s":"data","wn":1643.1,"a":0.00238},{"p":"R4","s":"data","wn":1646,"a":0.00216},{"p":"R4","s":"data","wn":1648.8,"a":0.00211},{"p":"R4","s":"data","wn":1651.6,"a":0.00198},{"p":"R4","s":"data","wn":1654.4,"a":0.00167},{"p":"R4","s":"data","wn":1657.3,"a":0.00122},{"p":"R4","s":"data","wn":1660.1,"a":0.00069},{"p":"R4","s":"data","wn":1662.9,"a":0.00038},{"p":"R4","s":"data","wn":1665.7,"a":0.00016},{"p":"R4","s":"data","wn":1668.3,"a":0},{"p":"R4","s":"data","wn":1670,"a":0.00007},{"p":"R4","s":"data","wn":1672.8,"a":0.00025},{"p":"R4","s":"data","wn":1675.6,"a":0.00051},{"p":"R4","s":"data","wn":1678.2,"a":0.00067},{"p":"R4","s":"data","wn":1680,"a":0.0006},
{"p":"R4","s":"peak1","wn":1570,"a":0},{"p":"R4","s":"peak1","wn":1578,"a":0},{"p":"R4","s":"peak1","wn":1582,"a":0.00001},{"p":"R4","s":"peak1","wn":1586,"a":0.00003},{"p":"R4","s":"peak1","wn":1590,"a":0.00008},{"p":"R4","s":"peak1","wn":1594,"a":0.0002},{"p":"R4","s":"peak1","wn":1598,"a":0.00043},{"p":"R4","s":"peak1","wn":1602,"a":0.00084},{"p":"R4","s":"peak1","wn":1606,"a":0.00142},{"p":"R4","s":"peak1","wn":1610,"a":0.00212},{"p":"R4","s":"peak1","wn":1614,"a":0.00276},{"p":"R4","s":"peak1","wn":1618,"a":0.00315},{"p":"R4","s":"peak1","wn":1620,"a":0.0032},{"p":"R4","s":"peak1","wn":1622,"a":0.00315},{"p":"R4","s":"peak1","wn":1626,"a":0.00276},{"p":"R4","s":"peak1","wn":1630,"a":0.00212},{"p":"R4","s":"peak1","wn":1634,"a":0.00142},{"p":"R4","s":"peak1","wn":1638,"a":0.00084},{"p":"R4","s":"peak1","wn":1642,"a":0.00043},{"p":"R4","s":"peak1","wn":1646,"a":0.0002},{"p":"R4","s":"peak1","wn":1650,"a":0.00008},{"p":"R4","s":"peak1","wn":1654,"a":0.00003},{"p":"R4","s":"peak1","wn":1658,"a":0.00001},{"p":"R4","s":"peak1","wn":1662,"a":0},{"p":"R4","s":"peak1","wn":1680,"a":0},
{"p":"R4","s":"peak2","wn":1570,"a":0},{"p":"R4","s":"peak2","wn":1602,"a":0},{"p":"R4","s":"peak2","wn":1606,"a":0.00001},{"p":"R4","s":"peak2","wn":1610,"a":0.00002},{"p":"R4","s":"peak2","wn":1614,"a":0.00006},{"p":"R4","s":"peak2","wn":1618,"a":0.00013},{"p":"R4","s":"peak2","wn":1622,"a":0.00027},{"p":"R4","s":"peak2","wn":1626,"a":0.0005},{"p":"R4","s":"peak2","wn":1630,"a":0.00083},{"p":"R4","s":"peak2","wn":1634,"a":0.00123},{"p":"R4","s":"peak2","wn":1638,"a":0.00162},{"p":"R4","s":"peak2","wn":1642,"a":0.00191},{"p":"R4","s":"peak2","wn":1646,"a":0.00202},{"p":"R4","s":"peak2","wn":1650,"a":0.00191},{"p":"R4","s":"peak2","wn":1654,"a":0.00162},{"p":"R4","s":"peak2","wn":1658,"a":0.00123},{"p":"R4","s":"peak2","wn":1662,"a":0.00083},{"p":"R4","s":"peak2","wn":1666,"a":0.0005},{"p":"R4","s":"peak2","wn":1670,"a":0.00027},{"p":"R4","s":"peak2","wn":1674,"a":0.00013},{"p":"R4","s":"peak2","wn":1678,"a":0.00006},{"p":"R4","s":"peak2","wn":1680,"a":0.00004},
{"p":"R4","s":"fit","wn":1570,"a":0},{"p":"R4","s":"fit","wn":1578,"a":0},{"p":"R4","s":"fit","wn":1582,"a":0.00001},{"p":"R4","s":"fit","wn":1586,"a":0.00003},{"p":"R4","s":"fit","wn":1590,"a":0.00008},{"p":"R4","s":"fit","wn":1594,"a":0.0002},{"p":"R4","s":"fit","wn":1598,"a":0.00043},{"p":"R4","s":"fit","wn":1602,"a":0.00084},{"p":"R4","s":"fit","wn":1606,"a":0.00143},{"p":"R4","s":"fit","wn":1610,"a":0.00214},{"p":"R4","s":"fit","wn":1614,"a":0.00282},{"p":"R4","s":"fit","wn":1618,"a":0.00328},{"p":"R4","s":"fit","wn":1620,"a":0.00338},{"p":"R4","s":"fit","wn":1622,"a":0.00342},{"p":"R4","s":"fit","wn":1626,"a":0.00326},{"p":"R4","s":"fit","wn":1630,"a":0.00295},{"p":"R4","s":"fit","wn":1634,"a":0.00265},{"p":"R4","s":"fit","wn":1638,"a":0.00246},{"p":"R4","s":"fit","wn":1642,"a":0.00234},{"p":"R4","s":"fit","wn":1646,"a":0.00222},{"p":"R4","s":"fit","wn":1650,"a":0.00199},{"p":"R4","s":"fit","wn":1654,"a":0.00165},{"p":"R4","s":"fit","wn":1658,"a":0.00124},{"p":"R4","s":"fit","wn":1662,"a":0.00083},{"p":"R4","s":"fit","wn":1666,"a":0.0005},{"p":"R4","s":"fit","wn":1670,"a":0.00027},{"p":"R4","s":"fit","wn":1674,"a":0.00013},{"p":"R4","s":"fit","wn":1678,"a":0.00006},{"p":"R4","s":"fit","wn":1680,"a":0.00004}
]
},
"columns": 2,
"spacing": {"row": 0, "column": 102},
"bounds": "flush",
"concat": [
{"width": 264, "height": 188, "data": {"name": "c"}, "transform": [{"filter": "datum.p==='L1'"}],
 "encoding": {
  "x": {"field": "wn", "type": "quantitative", "scale": {"domain": [1570, 1680], "reverse": true, "nice": false, "zero": false}, "axis": {"values": [1570,1580,1590,1600,1610,1620,1630,1640,1650,1660,1670,1680], "labels": false, "title": null, "tickSize": {"condition": {"test": "datum.value % 20 === 0", "value": 5}, "value": 3}}},
  "y": {"field": "a", "type": "quantitative", "scale": {"domain": [-0.005, 0.045], "nice": false, "zero": false}, "axis": {"values": [0,0.005,0.01,0.015,0.02,0.025,0.03,0.035,0.04], "format": ".2f", "labelPadding": 1, "labelExpr": "round(datum.value*1000) % 10 === 0 ? datum.label : ''", "tickSize": {"condition": {"test": "round(datum.value*1000) % 10 === 0", "value": 5}, "value": 3}, "title": null}}
 },
 "layer": [
  {"mark": {"type": "line", "clip": true, "interpolate": "monotone", "strokeWidth": 1}, "encoding": {"color": {"field": "s", "type": "nominal", "scale": {"domain": ["data","peak1","peak2","fit"], "range": ["#3d3d3d","#a3d97f","#a3d97f","#e0606a"]}, "legend": null}}},
  {"data": {"name": "lab"}, "transform": [{"filter": "datum.p==='L1'"}], "mark": {"type": "text", "align": "left", "baseline": "middle", "font": "Liberation Serif", "fontSize": 21, "color": "#111"}, "encoding": {"text": {"field": "t"}}},
  {"data": {"name": "corner"}, "transform": [{"filter": "datum.p==='L1'"}], "mark": {"type": "text", "align": "right", "baseline": "middle", "font": "Liberation Serif", "fontSize": 20, "color": "#111"}, "encoding": {"text": {"field": "t"}}}
 ]},
{"width": 255, "height": 188, "data": {"name": "c"}, "transform": [{"filter": "datum.p==='R1'"}],
 "encoding": {
  "x": {"field": "wn", "type": "quantitative", "scale": {"domain": [1572, 1680], "reverse": true, "nice": false, "zero": false}, "axis": {"values": [1580,1590,1600,1610,1620,1630,1640,1650,1660,1670,1680], "labels": false, "title": null, "tickSize": {"condition": {"test": "datum.value % 20 === 0", "value": 5}, "value": 3}}},
  "y": {"field": "a", "type": "quantitative", "scale": {"domain": [-0.0005, 0.0045], "nice": false, "zero": false}, "axis": {"values": [0,0.0005,0.001,0.0015,0.002,0.0025,0.003,0.0035,0.004], "format": ".3f", "labelPadding": 1, "labelExpr": "round(datum.value*10000) % 10 === 0 ? datum.label : ''", "tickSize": {"condition": {"test": "round(datum.value*10000) % 10 === 0", "value": 5}, "value": 3}, "title": null}}
 },
 "layer": [
  {"mark": {"type": "line", "clip": true, "interpolate": "monotone", "strokeWidth": 1}, "encoding": {"color": {"field": "s", "type": "nominal", "scale": {"domain": ["data","peak1","peak2","fit"], "range": ["#3d3d3d","#a3d97f","#a3d97f","#e0606a"]}, "legend": null}}},
  {"data": {"name": "lab"}, "transform": [{"filter": "datum.p==='R1'"}], "mark": {"type": "text", "align": "left", "baseline": "middle", "font": "Liberation Serif", "fontSize": 21, "color": "#111"}, "encoding": {"text": {"field": "t"}}},
  {"data": {"name": "corner"}, "transform": [{"filter": "datum.p==='R1'"}], "mark": {"type": "text", "align": "right", "baseline": "middle", "font": "Liberation Serif", "fontSize": 20, "color": "#111"}, "encoding": {"text": {"field": "t"}}}
 ]},
{"width": 264, "height": 188, "data": {"name": "c"}, "transform": [{"filter": "datum.p==='L2'"}],
 "encoding": {
  "x": {"field": "wn", "type": "quantitative", "scale": {"domain": [1570, 1680], "reverse": true, "nice": false, "zero": false}, "axis": {"values": [1570,1580,1590,1600,1610,1620,1630,1640,1650,1660,1670,1680], "labels": false, "title": null, "tickSize": {"condition": {"test": "datum.value % 20 === 0", "value": 5}, "value": 3}}},
  "y": {"field": "a", "type": "quantitative", "scale": {"domain": [-0.005, 0.045], "nice": false, "zero": false}, "axis": {"values": [0,0.005,0.01,0.015,0.02,0.025,0.03,0.035,0.04], "format": ".2f", "labelPadding": 1, "labelExpr": "round(datum.value*1000) % 10 === 0 ? datum.label : ''", "tickSize": {"condition": {"test": "round(datum.value*1000) % 10 === 0", "value": 5}, "value": 3}, "title": "Absorbance", "titleX": -53, "titleY": 188, "titleAlign": "center", "titleBaseline": "middle", "titleAngle": -90}}
 },
 "layer": [
  {"mark": {"type": "line", "clip": true, "interpolate": "monotone", "strokeWidth": 1}, "encoding": {"color": {"field": "s", "type": "nominal", "scale": {"domain": ["data","peak1","peak2","fit"], "range": ["#3d3d3d","#a3d97f","#a3d97f","#e0606a"]}, "legend": null}}},
  {"data": {"name": "lab"}, "transform": [{"filter": "datum.p==='L2'"}], "mark": {"type": "text", "align": "left", "baseline": "middle", "font": "Liberation Serif", "fontSize": 21, "color": "#111"}, "encoding": {"text": {"field": "t"}}}
 ]},
{"width": 255, "height": 188, "data": {"name": "c"}, "transform": [{"filter": "datum.p==='R2'"}],
 "encoding": {
  "x": {"field": "wn", "type": "quantitative", "scale": {"domain": [1572, 1680], "reverse": true, "nice": false, "zero": false}, "axis": {"values": [1580,1590,1600,1610,1620,1630,1640,1650,1660,1670,1680], "labels": false, "title": null, "tickSize": {"condition": {"test": "datum.value % 20 === 0", "value": 5}, "value": 3}}},
  "y": {"field": "a", "type": "quantitative", "scale": {"domain": [-0.0005, 0.0045], "nice": false, "zero": false}, "axis": {"values": [0,0.0005,0.001,0.0015,0.002,0.0025,0.003,0.0035,0.004], "format": ".3f", "labelPadding": 1, "labelExpr": "round(datum.value*10000) % 10 === 0 ? datum.label : ''", "tickSize": {"condition": {"test": "round(datum.value*10000) % 10 === 0", "value": 5}, "value": 3}, "title": "Absorbance", "titleX": -53, "titleY": 188, "titleAlign": "center", "titleBaseline": "middle", "titleAngle": -90}}
 },
 "layer": [
  {"mark": {"type": "line", "clip": true, "interpolate": "monotone", "strokeWidth": 1}, "encoding": {"color": {"field": "s", "type": "nominal", "scale": {"domain": ["data","peak1","peak2","fit"], "range": ["#3d3d3d","#a3d97f","#a3d97f","#e0606a"]}, "legend": null}}},
  {"data": {"name": "lab"}, "transform": [{"filter": "datum.p==='R2'"}], "mark": {"type": "text", "align": "left", "baseline": "middle", "font": "Liberation Serif", "fontSize": 21, "color": "#111"}, "encoding": {"text": {"field": "t"}}}
 ]},
{"width": 264, "height": 188, "data": {"name": "c"}, "transform": [{"filter": "datum.p==='L3'"}],
 "encoding": {
  "x": {"field": "wn", "type": "quantitative", "scale": {"domain": [1570, 1680], "reverse": true, "nice": false, "zero": false}, "axis": {"values": [1570,1580,1590,1600,1610,1620,1630,1640,1650,1660,1670,1680], "labels": false, "title": null, "tickSize": {"condition": {"test": "datum.value % 20 === 0", "value": 5}, "value": 3}}},
  "y": {"field": "a", "type": "quantitative", "scale": {"domain": [-0.005, 0.045], "nice": false, "zero": false}, "axis": {"values": [0,0.005,0.01,0.015,0.02,0.025,0.03,0.035,0.04], "format": ".2f", "labelPadding": 1, "labelExpr": "round(datum.value*1000) % 10 === 0 ? datum.label : ''", "tickSize": {"condition": {"test": "round(datum.value*1000) % 10 === 0", "value": 5}, "value": 3}, "title": null}}
 },
 "layer": [
  {"mark": {"type": "line", "clip": true, "interpolate": "monotone", "strokeWidth": 1}, "encoding": {"color": {"field": "s", "type": "nominal", "scale": {"domain": ["data","peak1","peak2","fit"], "range": ["#3d3d3d","#a3d97f","#a3d97f","#e0606a"]}, "legend": null}}},
  {"data": {"name": "lab"}, "transform": [{"filter": "datum.p==='L3'"}], "mark": {"type": "text", "align": "left", "baseline": "middle", "font": "Liberation Serif", "fontSize": 21, "color": "#111"}, "encoding": {"text": {"field": "t"}}}
 ]},
{"width": 255, "height": 188, "data": {"name": "c"}, "transform": [{"filter": "datum.p==='R3'"}],
 "encoding": {
  "x": {"field": "wn", "type": "quantitative", "scale": {"domain": [1572, 1680], "reverse": true, "nice": false, "zero": false}, "axis": {"values": [1580,1590,1600,1610,1620,1630,1640,1650,1660,1670,1680], "labels": false, "title": null, "tickSize": {"condition": {"test": "datum.value % 20 === 0", "value": 5}, "value": 3}}},
  "y": {"field": "a", "type": "quantitative", "scale": {"domain": [-0.0005, 0.0045], "nice": false, "zero": false}, "axis": {"values": [0,0.0005,0.001,0.0015,0.002,0.0025,0.003,0.0035,0.004], "format": ".3f", "labelPadding": 1, "labelExpr": "round(datum.value*10000) % 10 === 0 ? datum.label : ''", "tickSize": {"condition": {"test": "round(datum.value*10000) % 10 === 0", "value": 5}, "value": 3}, "title": null}}
 },
 "layer": [
  {"mark": {"type": "line", "clip": true, "interpolate": "monotone", "strokeWidth": 1}, "encoding": {"color": {"field": "s", "type": "nominal", "scale": {"domain": ["data","peak1","peak2","fit"], "range": ["#3d3d3d","#a3d97f","#a3d97f","#e0606a"]}, "legend": null}}},
  {"data": {"name": "lab"}, "transform": [{"filter": "datum.p==='R3'"}], "mark": {"type": "text", "align": "left", "baseline": "middle", "font": "Liberation Serif", "fontSize": 21, "color": "#111"}, "encoding": {"text": {"field": "t"}}}
 ]},
{"width": 264, "height": 188, "data": {"name": "c"}, "transform": [{"filter": "datum.p==='L4'"}],
 "encoding": {
  "x": {"field": "wn", "type": "quantitative", "scale": {"domain": [1570, 1680], "reverse": true, "nice": false, "zero": false}, "axis": {"values": [1570,1580,1590,1600,1610,1620,1630,1640,1650,1660,1670,1680], "format": "d", "labelPadding": 3, "labelExpr": "datum.value % 20 === 0 ? datum.label : ''", "tickSize": {"condition": {"test": "datum.value % 20 === 0", "value": 5}, "value": 3}, "title": "Wavenumber (cm⁻¹)", "titleX": 141, "titleY": 45, "titleAlign": "center", "titleBaseline": "alphabetic"}},
  "y": {"field": "a", "type": "quantitative", "scale": {"domain": [-0.005, 0.045], "nice": false, "zero": false}, "axis": {"values": [0,0.005,0.01,0.015,0.02,0.025,0.03,0.035,0.04], "format": ".2f", "labelPadding": 1, "labelExpr": "round(datum.value*1000) % 10 === 0 ? datum.label : ''", "tickSize": {"condition": {"test": "round(datum.value*1000) % 10 === 0", "value": 5}, "value": 3}, "title": null}}
 },
 "layer": [
  {"mark": {"type": "line", "clip": true, "interpolate": "monotone", "strokeWidth": 1}, "encoding": {"color": {"field": "s", "type": "nominal", "scale": {"domain": ["data","peak1","peak2","fit"], "range": ["#3d3d3d","#a3d97f","#a3d97f","#e0606a"]}, "legend": null}}},
  {"data": {"name": "lab"}, "transform": [{"filter": "datum.p==='L4'"}], "mark": {"type": "text", "align": "left", "baseline": "middle", "font": "Liberation Serif", "fontSize": 21, "color": "#111"}, "encoding": {"text": {"field": "t"}}}
 ]},
{"width": 255, "height": 188, "data": {"name": "c"}, "transform": [{"filter": "datum.p==='R4'"}],
 "encoding": {
  "x": {"field": "wn", "type": "quantitative", "scale": {"domain": [1572, 1680], "reverse": true, "nice": false, "zero": false}, "axis": {"values": [1580,1590,1600,1610,1620,1630,1640,1650,1660,1670,1680], "format": "d", "labelPadding": 3, "labelExpr": "datum.value % 20 === 0 ? datum.label : ''", "tickSize": {"condition": {"test": "datum.value % 20 === 0", "value": 5}, "value": 3}, "title": "Wavenumber (cm⁻¹)", "titleX": 134, "titleY": 45, "titleAlign": "center", "titleBaseline": "alphabetic"}},
  "y": {"field": "a", "type": "quantitative", "scale": {"domain": [-0.0005, 0.0045], "nice": false, "zero": false}, "axis": {"values": [0,0.0005,0.001,0.0015,0.002,0.0025,0.003,0.0035,0.004], "format": ".3f", "labelPadding": 1, "labelExpr": "round(datum.value*10000) % 10 === 0 ? datum.label : ''", "tickSize": {"condition": {"test": "round(datum.value*10000) % 10 === 0", "value": 5}, "value": 3}, "title": null}}
 },
 "layer": [
  {"mark": {"type": "line", "clip": true, "interpolate": "monotone", "strokeWidth": 1}, "encoding": {"color": {"field": "s", "type": "nominal", "scale": {"domain": ["data","peak1","peak2","fit"], "range": ["#3d3d3d","#a3d97f","#a3d97f","#e0606a"]}, "legend": null}}},
  {"data": {"name": "lab"}, "transform": [{"filter": "datum.p==='R4'"}], "mark": {"type": "text", "align": "left", "baseline": "middle", "font": "Liberation Serif", "fontSize": 21, "color": "#111"}, "encoding": {"text": {"field": "t"}}}
 ]}
]
}
